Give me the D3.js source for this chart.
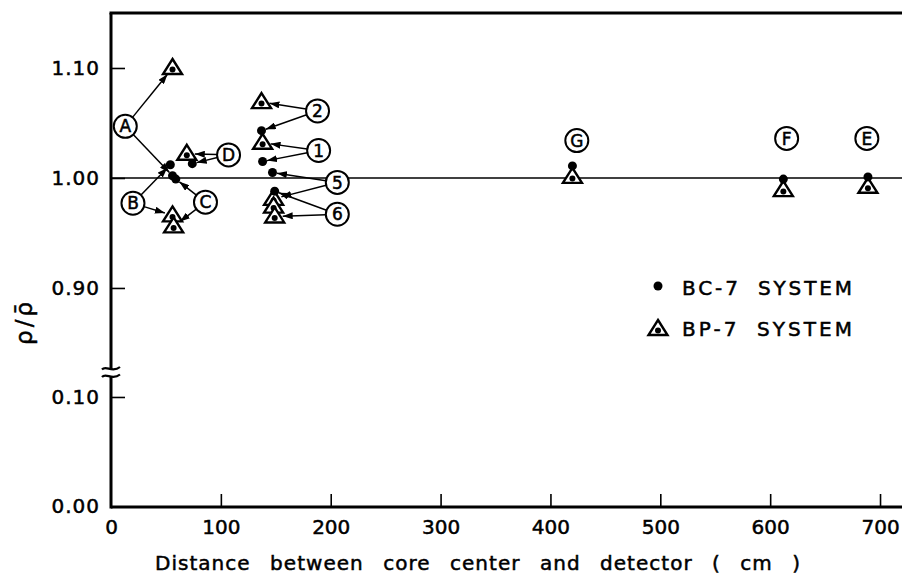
<!DOCTYPE html>
<html>
<head>
<meta charset="utf-8">
<script src="https://cdn.jsdelivr.net/npm/d3@7/dist/d3.min.js"></script>
<style>
  html, body { margin: 0; padding: 0; background: #fff; }
  svg { display: block; }
  text { font-family: "DejaVu Sans", sans-serif; fill: #000; stroke: #000; stroke-width: 0.5px; }
</style>
</head>
<body>
<svg id="chart" width="902" height="579"></svg>
<script>
// values
const xTicks = [0, 100, 200, 300, 400, 500, 600, 700];
const yTicks = [0.00, 0.10, 0.90, 1.00, 1.10];

const bcDist  = [54, 56, 59, 74, 137, 138, 147, 149, 420, 612, 689];
const bcRatio = [1.012, 1.002, 0.999, 1.013, 1.043, 1.015, 1.005, 0.988, 1.011, 0.999, 1.001];

const bpDist  = [56, 56, 57, 69, 137, 138, 148, 148, 149, 420, 612, 689];
const bpRatio = [1.100, 0.966, 0.956, 1.022, 1.069, 1.032, 0.981, 0.974, 0.965, 1.001, 0.989, 0.992];

// detector labels: position (cm, ratio) and which points they point at
const labelNames = ['A', 'B', 'C', 'D', '2', '1', '5', '6', 'G', 'F', 'E'];
const labelDist  = [13, 20, 86, 107, 188, 189, 206, 206, 424, 615, 688];
const labelRatio = [1.047, 0.977, 0.978, 1.021, 1.061, 1.025, 0.996, 0.967, 1.034, 1.036, 1.036];
const labelTargets = [
  [['bp', 0], ['bc', 1]],
  [['bc', 0], ['bp', 1]],
  [['bc', 2], ['bp', 2]],
  [['bp', 3], ['bc', 3]],
  [['bp', 4], ['bc', 4]],
  [['bp', 5], ['bc', 5]],
  [['bc', 6], ['bp', 6]],
  [['bc', 7], ['bp', 8]],
  [], [], []
];

const legendNames = ['BC-7 SYSTEM', 'BP-7 SYSTEM'];

const svg = d3.select('#chart');
const mLeft = 111, mRight = 902, mTop = 13, mBottom = 507;
const breakY = 372;

const x = d3.scaleLinear().domain([0, 720]).range([mLeft, mRight]);
// broken axis: lower piece 0.00-0.12, upper piece 0.82-1.15
const y = d3.scaleLinear()
  .domain([0, 0.1227, 0.8236, 1.15])
  .range([mBottom, breakY, breakY, mTop]);

// axes
const yAxis = svg.append('g')
  .attr('transform', `translate(${mLeft},0)`)
  .call(d3.axisLeft(y).tickValues(yTicks.filter(d => d > 0)).tickSize(-14).tickSizeOuter(0).tickPadding(11).tickFormat(d3.format('.2f')));
yAxis.select('.domain').remove();
yAxis.selectAll('.tick line').attr('stroke', '#000').attr('stroke-width', 1.6);
yAxis.selectAll('.tick text').style('font-size', '20px').style('letter-spacing', '1px');

// 0.00 label sits at the corner
svg.append('text')
  .attr('x', mLeft - 11).attr('y', y(0)).attr('dy', '0.32em')
  .attr('text-anchor', 'end')
  .style('font-size', '20px').style('letter-spacing', '1px')
  .text(d3.format('.2f')(yTicks[0]));

const xAxis = svg.append('g')
  .attr('transform', `translate(0,${mBottom})`)
  .call(d3.axisBottom(x).tickValues(xTicks).tickSize(-13).tickSizeOuter(0).tickPadding(13));
xAxis.select('.domain').remove();
xAxis.selectAll('.tick line').attr('stroke', '#000').attr('stroke-width', 1.6)
  .filter(d => d === 0).remove();
xAxis.selectAll('.tick text').style('font-size', '20px');

// frame
const frame = svg.append('g').attr('stroke', '#000').attr('stroke-width', 3).attr('fill', 'none');
frame.append('line').attr('x1', mLeft - 1.5).attr('x2', mRight).attr('y1', mTop).attr('y2', mTop);
frame.append('line').attr('x1', mLeft).attr('x2', mLeft).attr('y1', mTop).attr('y2', mBottom + 1.5);
frame.append('line').attr('x1', mLeft).attr('x2', mRight).attr('y1', mBottom).attr('y2', mBottom);

// axis break
svg.append('rect').attr('x', mLeft - 6).attr('y', breakY - 3).attr('width', 12).attr('height', 7).attr('fill', '#fff');
[breakY - 3.5, breakY + 4].forEach(yy => {
  svg.append('path')
    .attr('d', `M${mLeft - 9},${yy + 1} C${mLeft - 5},${yy - 4} ${mLeft + 1},${yy + 5} ${mLeft + 9},${yy - 1.5}`)
    .attr('fill', 'none').attr('stroke', '#000').attr('stroke-width', 2.2);
});

// reference line at 1.00
svg.append('line')
  .attr('x1', mLeft).attr('x2', mRight).attr('y1', y(1)).attr('y2', y(1))
  .attr('stroke', '#000').attr('stroke-width', 1.6);

// axis titles
svg.append('text')
  .attr('x', 155).attr('y', 570)
  .attr('textLength', 645).attr('lengthAdjust', 'spacing')
  .style('font-size', '20px').style('word-spacing', '12px')
  .text('Distance between core center and detector ( cm )');

svg.append('text')
  .attr('transform', 'translate(32,322) rotate(-90)')
  .attr('text-anchor', 'middle')
  .style('font-size', '23px')
  .style('letter-spacing', '3px')
  .text('\u03C1/\u03C1\u0304');

// arrowhead
svg.append('defs').append('marker')
  .attr('id', 'head').attr('markerUnits', 'userSpaceOnUse')
  .attr('markerWidth', 10).attr('markerHeight', 7)
  .attr('refX', 10).attr('refY', 3.5).attr('orient', 'auto')
  .append('path').attr('d', 'M0,0 L10,3.5 L0,7 Z').attr('fill', '#000');

const tri = 'M0,-9 L9.5,6 L-9.5,6 Z';
function drawTriangle(g, cx, cy) {
  g.append('path').attr('d', tri).attr('transform', `translate(${cx},${cy})`)
    .attr('fill', '#fff').attr('stroke', '#000').attr('stroke-width', 2.4).attr('stroke-linejoin', 'miter');
  g.append('circle').attr('cx', cx).attr('cy', cy + 1.5).attr('r', 3).attr('fill', '#000');
}

// arrows from labels
const rLab = 11.5;
const pts = {
  bc: bcDist.map((d, i) => [x(d), y(bcRatio[i])]),
  bp: bpDist.map((d, i) => [x(d), y(bpRatio[i])])
};
const arrows = svg.append('g');
labelNames.forEach((name, i) => {
  const lx = x(labelDist[i]), ly = y(labelRatio[i]);
  labelTargets[i].forEach(([s, k]) => {
    const [tx, ty] = pts[s][k];
    const dx = tx - lx, dy = ty - ly, len = Math.hypot(dx, dy);
    const ux = dx / len, uy = dy / len;
    const gap = s === 'bc' ? 4.5 : 8;
    arrows.append('line')
      .attr('x1', lx + ux * rLab).attr('y1', ly + uy * rLab)
      .attr('x2', tx - ux * gap).attr('y2', ty - uy * gap)
      .attr('stroke', '#000').attr('stroke-width', 1.5)
      .attr('marker-end', 'url(#head)');
  });
});

// BP-7 triangles, then BC-7 dots on top
const marks = svg.append('g');
pts.bp.forEach(([px, py]) => drawTriangle(marks, px, py));
marks.selectAll('circle.bc').data(pts.bc).join('circle')
  .attr('class', 'bc')
  .attr('cx', d => d[0]).attr('cy', d => d[1]).attr('r', 4.5).attr('fill', '#000');

// label circles
const labs = svg.append('g');
labelNames.forEach((name, i) => {
  const lx = x(labelDist[i]), ly = y(labelRatio[i]);
  labs.append('circle').attr('cx', lx).attr('cy', ly).attr('r', rLab)
    .attr('fill', '#fff').attr('stroke', '#000').attr('stroke-width', 2);
  labs.append('text').attr('x', lx).attr('y', ly).attr('dy', '0.36em')
    .attr('text-anchor', 'middle').style('font-size', '17px').text(name);
});

// legend
const legend = svg.append('g');
legend.append('circle').attr('cx', 658).attr('cy', 286).attr('r', 4.5).attr('fill', '#000');
drawTriangle(legend, 658, 329);
legendNames.forEach((t, i) => {
  legend.append('text').attr('x', 682).attr('y', 288 + i * 41).attr('dy', '0.36em')
    .attr('textLength', 170).attr('lengthAdjust', 'spacing')
    .style('font-size', '20px').style('word-spacing', '8px').text(t);
});
</script>
</body>
</html>
